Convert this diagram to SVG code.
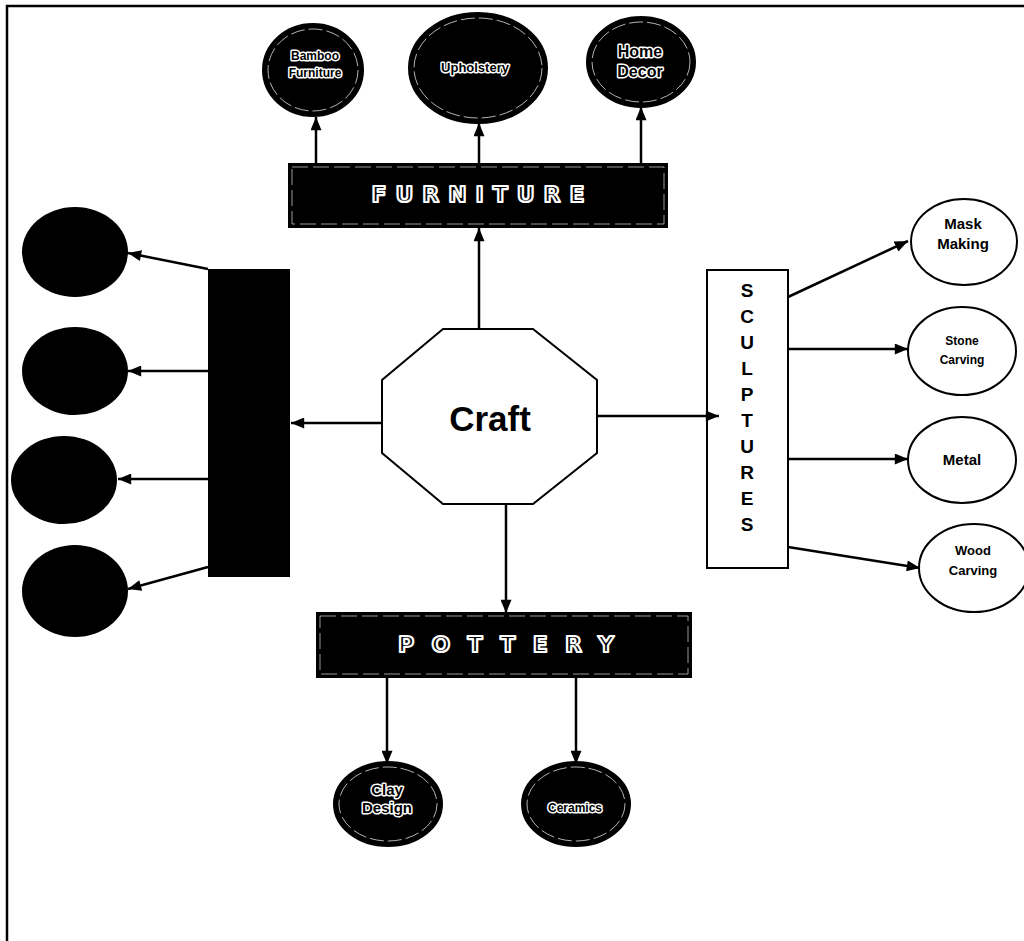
<svg xmlns="http://www.w3.org/2000/svg" width="1024" height="941" viewBox="0 0 1024 941">
<defs>
<marker id="ah" viewBox="0 0 12 10" refX="12" refY="5" markerWidth="14" markerHeight="11" orient="auto" markerUnits="userSpaceOnUse"><path d="M0,0 L12,5 L0,10 z" fill="#000"/></marker>
</defs>
<style>
.conn line{stroke:#000;stroke-width:2.5;marker-end:url(#ah)}
.dark{fill:#000;stroke:#000;stroke-width:2}
.ring{fill:none;stroke:#fff;stroke-width:0.7;stroke-dasharray:14 4}
.light{fill:#fff;stroke:#000;stroke-width:2}
.halo{font-family:"Liberation Sans",Arial,sans-serif;font-weight:bold;fill:#000;stroke:#fff;stroke-width:3;paint-order:stroke;stroke-linejoin:round;text-anchor:middle}
.lbl{font-family:"Liberation Sans",Arial,sans-serif;font-weight:bold;fill:#000;text-anchor:middle}
.band{font-family:"DejaVu Sans","Liberation Sans",sans-serif;font-weight:bold;fill:#000;stroke:#fff;stroke-width:2.2;stroke-linejoin:round;text-anchor:middle}
</style>
<rect width="1024" height="941" fill="#fff"/>
<path d="M7,941 V6 H1024" fill="none" stroke="#000" stroke-width="2.5"/>

<g id="bamboo-furniture">
<ellipse class="dark" cx="313" cy="70" rx="50" ry="46"/>
<ellipse class="ring" cx="313" cy="70" rx="45" ry="41"/>
<text class="halo" x="315" y="60" font-size="12">Bamboo</text>
<text class="halo" x="315" y="77" font-size="12">Furniture</text>
</g>
<g id="upholstery">
<ellipse class="dark" cx="478" cy="68" rx="69" ry="55"/>
<ellipse class="ring" cx="478" cy="68" rx="64" ry="50"/>
<text class="halo" x="475" y="72" font-size="13">Upholstery</text>
</g>
<g id="home-decor">
<ellipse class="dark" cx="641" cy="62" rx="54" ry="45"/>
<ellipse class="ring" cx="641" cy="62" rx="49" ry="40"/>
<text class="halo" x="640" y="57" font-size="16">Home</text>
<text class="halo" x="640" y="77" font-size="16">Decor</text>
</g>

<g id="furniture">
<rect class="dark" x="289" y="164" width="378" height="63"/>
<rect x="292" y="167" width="372" height="57" fill="none" stroke="#fff" stroke-width="0.6" stroke-dasharray="16 5"/>
<text class="band" x="478" y="202" font-size="22" textLength="213" lengthAdjust="spacing">FURNITURE</text>
</g>

<g id="craft">
<polygon points="443,329 533,329 597,380 597,453 533,504 443,504 382,453 382,380" fill="#fff" stroke="#000" stroke-width="2"/>
<text class="lbl" x="490" y="431" font-size="35">Craft</text>
</g>

<g id="left-group">
<rect x="208" y="269" width="82" height="308" fill="#000"/>
</g>
<g id="left-1"><ellipse cx="75" cy="252" rx="53" ry="45" fill="#000"/></g>
<g id="left-2"><ellipse cx="75" cy="371" rx="53" ry="44" fill="#000"/></g>
<g id="left-3"><ellipse cx="64" cy="480" rx="53" ry="44" fill="#000"/></g>
<g id="left-4"><ellipse cx="75" cy="591" rx="53" ry="46" fill="#000"/></g>

<g id="sculptures">
<rect class="light" x="707" y="270" width="81" height="298"/>
<g class="lbl" font-size="19">
<text x="747" y="297">S</text>
<text x="747" y="323">C</text>
<text x="747" y="349">U</text>
<text x="747" y="375">L</text>
<text x="747" y="401">P</text>
<text x="747" y="427">T</text>
<text x="747" y="453">U</text>
<text x="747" y="479">R</text>
<text x="747" y="505">E</text>
<text x="747" y="531">S</text>
</g>
</g>

<g id="mask-making">
<ellipse class="light" cx="964" cy="242" rx="53" ry="43"/>
<text class="lbl" x="963" y="229" font-size="15">Mask</text>
<text class="lbl" x="963" y="249" font-size="15">Making</text>
</g>
<g id="stone-carving">
<ellipse class="light" cx="962" cy="351" rx="54" ry="44"/>
<text class="lbl" x="962" y="345" font-size="12">Stone</text>
<text class="lbl" x="962" y="364" font-size="12">Carving</text>
</g>
<g id="metal">
<ellipse class="light" cx="962" cy="460" rx="54" ry="43"/>
<text class="lbl" x="962" y="465" font-size="15">Metal</text>
</g>
<g id="wood-carving">
<ellipse class="light" cx="974" cy="568" rx="55" ry="44"/>
<text class="lbl" x="973" y="555" font-size="13">Wood</text>
<text class="lbl" x="973" y="575" font-size="13">Carving</text>
</g>

<g id="pottery">
<rect class="dark" x="317" y="613" width="374" height="64"/>
<rect x="320" y="616" width="368" height="58" fill="none" stroke="#fff" stroke-width="0.6" stroke-dasharray="16 5"/>
<text class="band" x="506" y="652" font-size="22" textLength="216" lengthAdjust="spacing">POTTERY</text>
</g>

<g id="clay-design">
<ellipse class="dark" cx="388" cy="804" rx="54" ry="42"/>
<ellipse class="ring" cx="388" cy="804" rx="49" ry="37"/>
<text class="halo" x="387" y="795" font-size="15">Clay</text>
<text class="halo" x="387" y="813" font-size="15">Design</text>
</g>
<g id="ceramics">
<ellipse class="dark" cx="576" cy="804" rx="54" ry="42"/>
<ellipse class="ring" cx="576" cy="804" rx="49" ry="37"/>
<text class="halo" x="575" y="812" font-size="12">Ceramics</text>
</g>

<g id="connectors" class="conn">
<line x1="316" y1="164" x2="316" y2="117"/>
<line x1="479" y1="164" x2="479" y2="123"/>
<line x1="641" y1="164" x2="641" y2="107"/>
<line x1="479" y1="329" x2="479" y2="228"/>
<line x1="382" y1="423" x2="291" y2="423"/>
<line x1="597" y1="416" x2="719" y2="416"/>
<line x1="506" y1="504" x2="506" y2="613"/>
<line x1="208" y1="269" x2="128" y2="253"/>
<line x1="208" y1="371" x2="128" y2="371"/>
<line x1="208" y1="479" x2="118" y2="479"/>
<line x1="208" y1="567" x2="128" y2="589"/>
<line x1="788" y1="297" x2="908" y2="241"/>
<line x1="788" y1="349" x2="908" y2="349"/>
<line x1="788" y1="459" x2="908" y2="459"/>
<line x1="788" y1="547" x2="920" y2="568"/>
<line x1="387" y1="677" x2="387" y2="764"/>
<line x1="576" y1="677" x2="576" y2="764"/>
</g>
</svg>
